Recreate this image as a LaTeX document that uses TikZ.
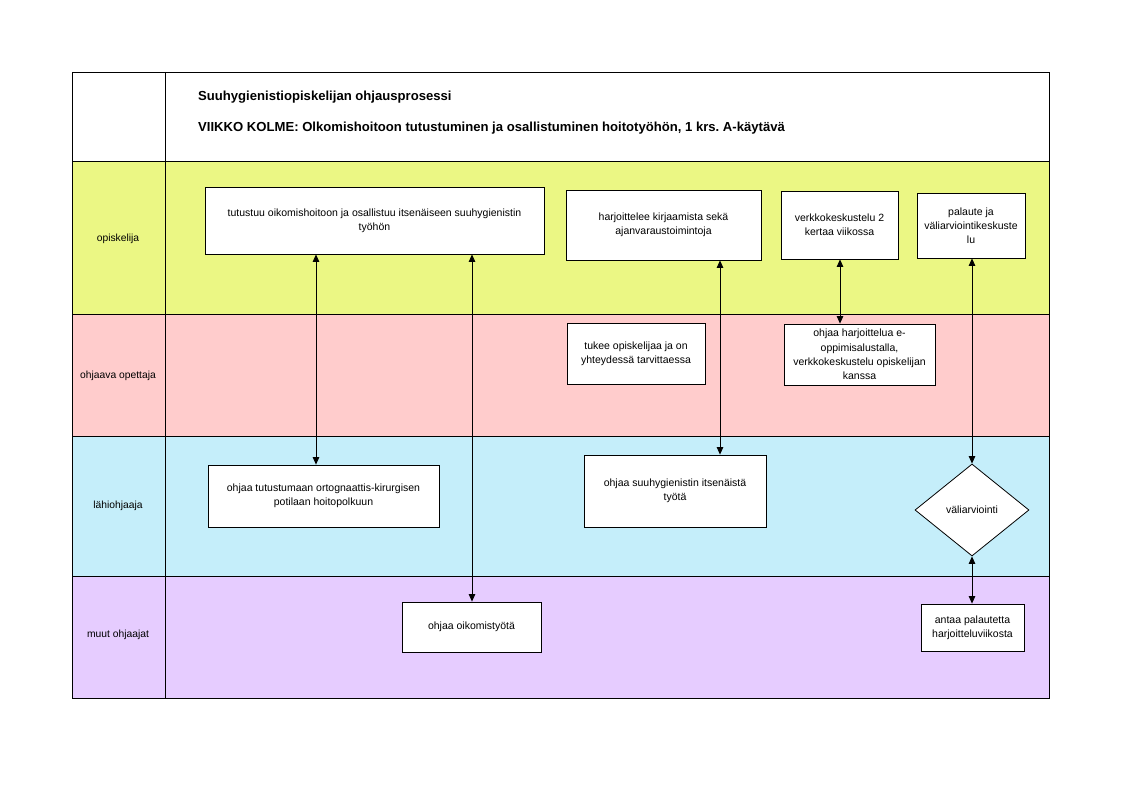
\documentclass[tikz,border=0pt]{standalone}
\usepackage{fontspec}
\setmainfont{Liberation Sans}
\usetikzlibrary{arrows.meta,shapes.geometric}
\frenchspacing
\definecolor{laneA}{RGB}{235,247,132}
\definecolor{laneB}{RGB}{255,204,204}
\definecolor{laneC}{RGB}{197,238,250}
\definecolor{laneD}{RGB}{230,204,255}
\tikzset{
  lanebox/.style={draw=black,line width=0.9pt},
  stepbox/.style={draw=black,fill=white,line width=0.8pt,align=center,font=\fontsize{10.5}{14.2}\selectfont,inner sep=0pt},
  lanelabel/.style={font=\fontsize{10.3}{12}\selectfont,inner sep=0pt},
  arr/.style={{Triangle[length=7.5pt,width=6.5pt]}-{Triangle[length=7.5pt,width=6.5pt]},line width=0.8pt},
}
\begin{document}
\begin{tikzpicture}[x=1pt,y=-1pt]
\useasboundingbox (0,0) rectangle (1122,794);
\fill[white] (0,0) rectangle (1122,794);
% lanes
\draw[lanebox,fill=white] (72,72) rectangle (1049,161);
\draw[lanebox,fill=laneA] (72,161) rectangle (1049,314);
\draw[lanebox,fill=laneB] (72,314) rectangle (1049,436);
\draw[lanebox,fill=laneC] (72,436) rectangle (1049,576);
\draw[lanebox,fill=laneD] (72,576) rectangle (1049,698);
\draw[lanebox] (165,72) -- (165,698);
% header
\node[anchor=west,font=\bfseries\fontsize{13.1}{15}\selectfont,inner sep=0pt] (t1) at (198,97) {Suuhygienistiopiskelijan ohjausprosessi};
\node[anchor=west,font=\bfseries\fontsize{13.1}{15}\selectfont,inner sep=0pt] (t2) at (198,128) {VIIKKO KOLME: Olkomishoitoon tutustuminen ja osallistuminen hoitotyöhön, 1 krs. A-käytävä};
% lane labels
\node[lanelabel] (la) at (118,239) {opiskelija};
\node[lanelabel] (lb) at (118,376) {ohjaava opettaja};
\node[lanelabel] (lc) at (118,506) {lähiohjaaja};
\node[lanelabel] (ld) at (118,635) {muut ohjaajat};
% boxes
\node[stepbox,minimum width=339pt,minimum height=67pt] (b1) at (374.5,220.5) {tutustuu oikomishoitoon ja osallistuu itsenäiseen suuhygienistin\\työhön};
\node[stepbox,minimum width=195pt,minimum height=70pt] (b2) at (663.5,225) {harjoittelee kirjaamista sekä\\ajanvaraustoimintoja};
\node[stepbox,minimum width=117pt,minimum height=68pt] (b3) at (839.5,225) {verkkokeskustelu 2\\kertaa viikossa};
\node[stepbox,minimum width=108pt,minimum height=65pt] (b4) at (971,225.5) {palaute ja\\väliarviointikeskuste\\lu};
\node[stepbox,minimum width=138pt,minimum height=61pt] (b5) at (636,353.5) {tukee opiskelijaa ja on\\yhteydessä tarvittaessa};
\node[stepbox,minimum width=151pt,minimum height=61pt] (b6) at (859.5,354.5) {ohjaa harjoittelua e-\\oppimisalustalla,\\verkkokeskustelu opiskelijan\\kanssa};
\node[stepbox,minimum width=231pt,minimum height=62pt] (b7) at (323.5,496) {ohjaa tutustumaan ortognaattis-kirurgisen\\potilaan hoitopolkuun};
\node[stepbox,minimum width=182pt,minimum height=72pt] (b8) at (675,491) {ohjaa suuhygienistin itsenäistä\\työtä};
\node[draw=black,fill=white,line width=0.8pt,diamond,aspect=1.24,minimum width=114pt,minimum height=92pt,inner sep=0pt,font=\fontsize{10.5}{12}\selectfont] (d1) at (972,510) {väliarviointi};
\node[stepbox,minimum width=139pt,minimum height=50pt] (b9) at (471.5,627) {ohjaa oikomistyötä};
\node[stepbox,minimum width=103pt,minimum height=47pt] (b10) at (972.5,627.5) {antaa palautetta\\harjoitteluviikosta};
% connectors
\draw[arr] (b1.south -| 316,0) -- (b7.north -| 316,0);
\draw[arr] (b1.south -| 472,0) -- (b9.north -| 472,0);
\draw[arr] (b2.south -| 720,0) -- (b8.north -| 720,0);
\draw[arr] (b3.south -| 840,0) -- (b6.north -| 840,0);
\draw[arr] (b4.south -| 972,0) -- (d1.north);
\draw[arr] (d1.south) -- (b10.north -| 972,0);
\end{tikzpicture}
\end{document}
